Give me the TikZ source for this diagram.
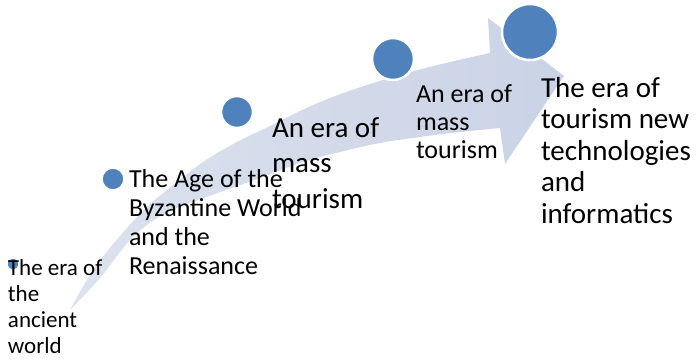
\documentclass[tikz,border=0pt]{standalone}
\usepackage{fontspec}
\setmainfont{Carlito}
\definecolor{arrowA}{HTML}{DCE2EE}
\definecolor{arrowB}{HTML}{CAD3E6}
\definecolor{dotblue}{HTML}{4F81BD}
\begin{document}
\begin{tikzpicture}[x=1pt,y=-1pt,
  dot/.style={circle,fill=dotblue,draw=white,line width=2.5pt,inner sep=0pt,outer sep=0pt},
  lbl/.style={anchor=base west,inner sep=0pt,outer sep=0pt,align=left,text=black}]
\useasboundingbox (0,0) rectangle (696,359);
% curved arrow
\shade[left color=arrowA,right color=arrowB]
  plot[smooth,tension=0.6] coordinates {(70,310) (93,270) (120,236) (147,207) (172,186) (203,162) (237,142) (270,126) (300,111) (330,98) (370,84) (410,72) (450,62) (490,53)}
  -- (488,18) -- (564,76) -- (505,164) -- (500,128)
  -- plot[smooth,tension=0.6] coordinates {(500,128) (460,132) (420,137) (380,143) (340,152) (300,163) (260,178) (215,194) (182,206) (157,218) (130,240) (100,278) (70,310)}
  -- cycle;
% circles
\node[dot,minimum size=13pt] (c1) at (13,264) {};
\node[dot,minimum size=23pt] (c2) at (113,179) {};
\node[dot,minimum size=32pt] (c3) at (237,112) {};
\node[dot,minimum size=42pt] (c4) at (393,59) {};
\node[dot,minimum size=56pt] (c5) at (530,32) {};
% labels (anchored at the baseline of the last line)
\node[lbl,font=\fontsize{23}{26}\selectfont] (t1) at (8,353) {The era of\\the\\ancient\\world};
\node[lbl,font=\fontsize{26}{29}\selectfont] (t2) at (129,274) {The Age of the\\Byzantine World\\and the\\Renaissance};
\node[lbl,font=\fontsize{29}{35.5}\selectfont] (t3) at (272,208) {An era of\\mass\\tourism};
\node[lbl,font=\fontsize{26}{28}\selectfont] (t4) at (416,158) {An era of\\mass\\tourism};
\node[lbl,font=\fontsize{29}{31.5}\selectfont] (t5) at (541,223) {The era of\\tourism new\\technologies\\and\\informatics};
\end{tikzpicture}
\end{document}
